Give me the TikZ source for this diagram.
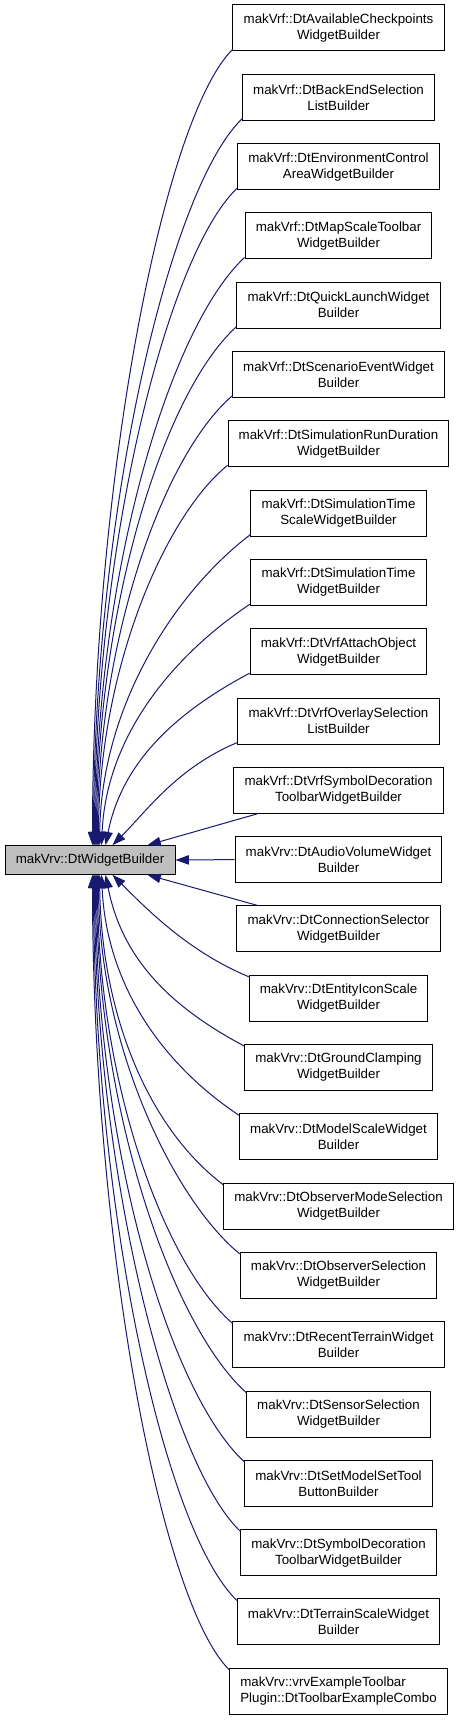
\documentclass[tikz,border=0pt]{standalone}
\usepackage{fontspec}
\setmainfont{Liberation Sans}
\usetikzlibrary{arrows.meta,calc}
\definecolor{midnight}{HTML}{191970}
\definecolor{grey75}{HTML}{BFBFBF}
\tikzset{
  box/.style={draw=black, line width=0.75pt, fill=white, align=center,
    inner xsep=8pt, inner ysep=2pt, minimum height=34.5pt,
    font=\fontsize{10}{12}\selectfont},
  edge/.style={draw=midnight, line width=0.75pt, -{Triangle[length=10pt,width=7pt]}}
}
\begin{document}
\begin{tikzpicture}[x=0.75pt,y=-0.75pt]
\path[fill=white] (0,0) rectangle (459,1720);
\useasboundingbox (0,0) rectangle (459,1720);
\node[box, fill=grey75, minimum width=127.5pt, minimum height=21.5pt] (main) at (90,860) {makVrv::DtWidgetBuilder};
\node[box] (n0) at (338.5,28+69.3*0) {makVrf::DtAvailableCheckpoints\\WidgetBuilder};
\node[box] (n1) at (338.5,28+69.3*1) {makVrf::DtBackEndSelection\\ListBuilder};
\node[box] (n2) at (338.5,28+69.3*2) {makVrf::DtEnvironmentControl\\AreaWidgetBuilder};
\node[box] (n3) at (338.5,28+69.3*3) {makVrf::DtMapScaleToolbar\\WidgetBuilder};
\node[box] (n4) at (338.5,28+69.3*4) {makVrf::DtQuickLaunchWidget\\Builder};
\node[box] (n5) at (338.5,28+69.3*5) {makVrf::DtScenarioEventWidget\\Builder};
\node[box] (n6) at (338.5,28+69.3*6) {makVrf::DtSimulationRunDuration\\WidgetBuilder};
\node[box] (n7) at (338.5,28+69.3*7) {makVrf::DtSimulationTime\\ScaleWidgetBuilder};
\node[box] (n8) at (338.5,28+69.3*8) {makVrf::DtSimulationTime\\WidgetBuilder};
\node[box] (n9) at (338.5,28+69.3*9) {makVrf::DtVrfAttachObject\\WidgetBuilder};
\node[box] (n10) at (338.5,28+69.3*10) {makVrf::DtVrfOverlaySelection\\ListBuilder};
\node[box] (n11) at (338.5,28+69.3*11) {makVrf::DtVrfSymbolDecoration\\ToolbarWidgetBuilder};
\node[box] (n12) at (338.5,28+69.3*12) {makVrv::DtAudioVolumeWidget\\Builder};
\node[box] (n13) at (338.5,28+69.3*13) {makVrv::DtConnectionSelector\\WidgetBuilder};
\node[box] (n14) at (338.5,28+69.3*14) {makVrv::DtEntityIconScale\\WidgetBuilder};
\node[box] (n15) at (338.5,28+69.3*15) {makVrv::DtGroundClamping\\WidgetBuilder};
\node[box] (n16) at (338.5,28+69.3*16) {makVrv::DtModelScaleWidget\\Builder};
\node[box] (n17) at (338.5,28+69.3*17) {makVrv::DtObserverModeSelection\\WidgetBuilder};
\node[box] (n18) at (338.5,28+69.3*18) {makVrv::DtObserverSelection\\WidgetBuilder};
\node[box] (n19) at (338.5,28+69.3*19) {makVrv::DtRecentTerrainWidget\\Builder};
\node[box] (n20) at (338.5,28+69.3*20) {makVrv::DtSensorSelection\\WidgetBuilder};
\node[box] (n21) at (338.5,28+69.3*21) {makVrv::DtSetModelSetTool\\ButtonBuilder};
\node[box] (n22) at (338.5,28+69.3*22) {makVrv::DtSymbolDecoration\\ToolbarWidgetBuilder};
\node[box] (n23) at (338.5,28+69.3*23) {makVrv::DtTerrainScaleWidget\\Builder};
\node[box, align=left] (n24) at (338.5,28+69.3*24) {makVrv::vrvExampleToolbar\\Plugin::DtToolbarExampleCombo};
% upper curved edges
\foreach \i/\tip/\a/\b/\c/\e in {0/93/70/70/360/0, 1/94/74/72/328/0, 2/95/71/68/296/0,
  3/96/77/72/265/0, 4/97/74/67/234/0, 5/98/70/61/203/0, 6/99/65/53/171/0,
  7/100/75/57/140/2, 8/102/78/52/109/5, 9/106/85/45/75/15, 10/113/60/25/35/35}
{
  \draw[edge] ($(n\i.south west)+(0,-2)$) .. controls +(-\a,\b) and +(\e,-\c) .. ($(main.north west)+(\tip-5,0)$);
}
% lower curved edges
\foreach \i/\tip/\a/\b/\c/\e in {24/93/70/70/360/0, 23/94/74/72/328/0, 22/95/71/68/296/0,
  21/96/77/72/265/0, 20/97/74/67/234/0, 19/98/70/61/203/0, 18/99/65/53/171/0,
  17/100/75/57/140/2, 16/102/78/52/109/5, 15/106/85/45/75/15, 14/113/60/25/35/35}
{
  \draw[edge] ($(n\i.north west)+(0,2)$) .. controls +(-\a,-\b) and +(\e,\c) .. ($(main.south west)+(\tip-5,0)$);
}
% straight edges
\draw[edge] ($(n11.south west)+(24,0)$) -- ($(main.north west)+(143,0)$);
\draw[edge] ($(n13.north west)+(21,0)$) -- ($(main.south west)+(143,0)$);
\draw[edge] (n12.west) -- (main.east);
\end{tikzpicture}
\end{document}
